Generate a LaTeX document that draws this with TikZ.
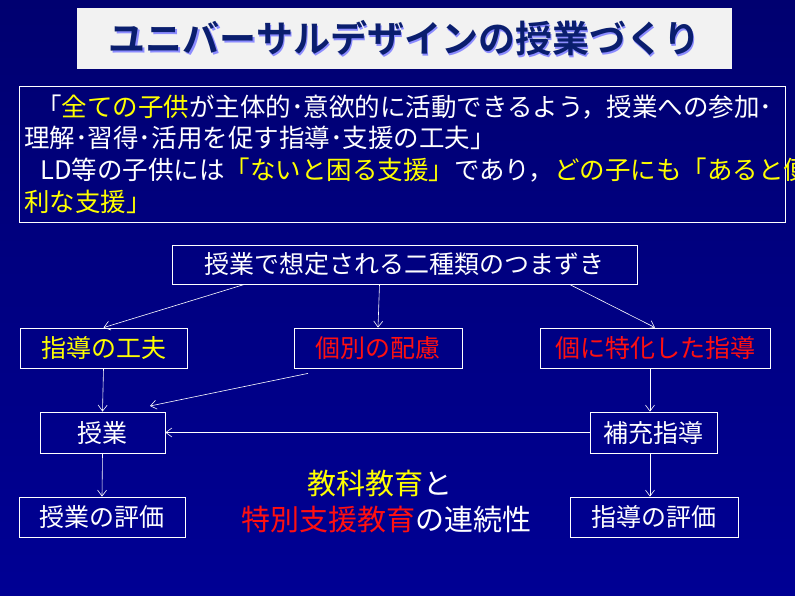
\documentclass[tikz,border=0pt]{standalone}
\usepackage{fontspec}
\setmainfont{Noto Sans CJK JP}
\newfontfamily\cjkb{Noto Sans CJK JP}[BoldFont={* Bold}]
\usetikzlibrary{arrows.meta,calc}
\definecolor{navyA}{HTML}{000070}
\definecolor{navyB}{HTML}{000094}
\definecolor{ttl}{HTML}{0A1E6E}
\definecolor{yel}{HTML}{FFFF00}
\definecolor{rd}{HTML}{FF1010}
\begin{document}
\begin{tikzpicture}[x=1pt,y=-1pt,
  bx/.style={draw=white,line width=0.8pt,inner sep=0pt,font=\fontsize{25}{28}\selectfont,text=white},
  arr/.style={draw=white,line width=0.6pt,-{Straight Barb[length=6pt,width=9pt,line width=0.6pt]}}]
\shade[top color=navyA,bottom color=navyB] (0,0) rectangle (795,596);
\useasboundingbox (0,0) rectangle (795,596);
% title
\node[fill=black!5,minimum width=655pt,minimum height=61pt,inner sep=0pt] (title) at (404.5,38.5) {};
\node[text=blue!45!white,font=\cjkb\bfseries\fontsize{37}{40}\selectfont] at (406,40.5) {ユニバーサルデザインの授業づくり};
\node[text=ttl,font=\cjkb\bfseries\fontsize{37}{40}\selectfont] (tt) at (404.5,38.5) {ユニバーサルデザインの授業づくり};
% intro box
\node[draw=white,line width=0.8pt,minimum width=766pt,minimum height=136pt,inner sep=0pt] (intro) at (402,154) {};
\begin{scope}[every node/.style={anchor=west,text=white,font=\fontsize{25.5}{28}\selectfont,inner sep=0pt}]
\node (l1) at (36,107) {「\textcolor{yel}{全ての子供}が主体的･意欲的に活動できるよう，授業への参加･};
\node (l2) at (24,138) {理解･習得･活用を促す指導･支援の工夫」};
\node (l3) at (40,170) {LD等の子供には\textcolor{yel}{「ないと困る支援」}であり，\textcolor{yel}{どの子にも「あると便}};
\node (l4) at (24,202) {\textcolor{yel}{利な支援」}};
\end{scope}
% nodes
\node[bx,minimum width=465pt,minimum height=39pt] (top) at (404.5,264.5) {授業で想定される二種類のつまずき};
\node[bx,minimum width=167pt,minimum height=40pt,text=yel] (kufu) at (103.5,348) {指導の工夫};
\node[bx,minimum width=168pt,minimum height=40pt,text=rd] (hairyo) at (378,348) {個別の配慮};
\node[bx,minimum width=230pt,minimum height=40pt,text=rd] (tokka) at (655,348) {個に特化した指導};
\node[bx,minimum width=125pt,minimum height=41pt] (jugyo) at (102.5,432.5) {授業};
\node[bx,minimum width=127pt,minimum height=41pt] (hoju) at (653.5,432.5) {補充指導};
\node[bx,minimum width=166pt,minimum height=40pt] (jhyoka) at (102,517) {授業の評価};
\node[bx,minimum width=168pt,minimum height=40pt] (shyoka) at (654,517) {指導の評価};
\node[font=\fontsize{29}{32}\selectfont,text=yel,inner sep=0pt] (c1) at (380,484) {教科教育\textcolor{white}{と}};
\node[font=\fontsize{29}{32}\selectfont,text=rd,inner sep=0pt] (c2) at (386,520) {特別支援教育\textcolor{white}{の連続性}};
% arrows
\coordinate (hs) at ($(hairyo.south)+(-70,5)$);
\coordinate (ht) at (150,406);
\draw[arr] ([xshift=-160pt]top.south) -- (kufu.north);
\draw[arr] ([xshift=-25pt]top.south) -- (hairyo.north);
\draw[arr] ([xshift=165pt]top.south) -- (tokka.north);
\draw[arr] (hs) -- (ht);
\draw[arr] (kufu.south) -- (jugyo.north);
\draw[arr] ([xshift=-5pt]tokka.south) -- ([xshift=-3.5pt]hoju.north);
\draw[arr] (hoju.west) -- (jugyo.east);
\draw[arr] (jugyo.south) -- (jhyoka.south |- jhyoka.north);
\draw[arr] ([xshift=-3.5pt]hoju.south) -- ([xshift=-4pt]shyoka.north);
\end{tikzpicture}
\end{document}
